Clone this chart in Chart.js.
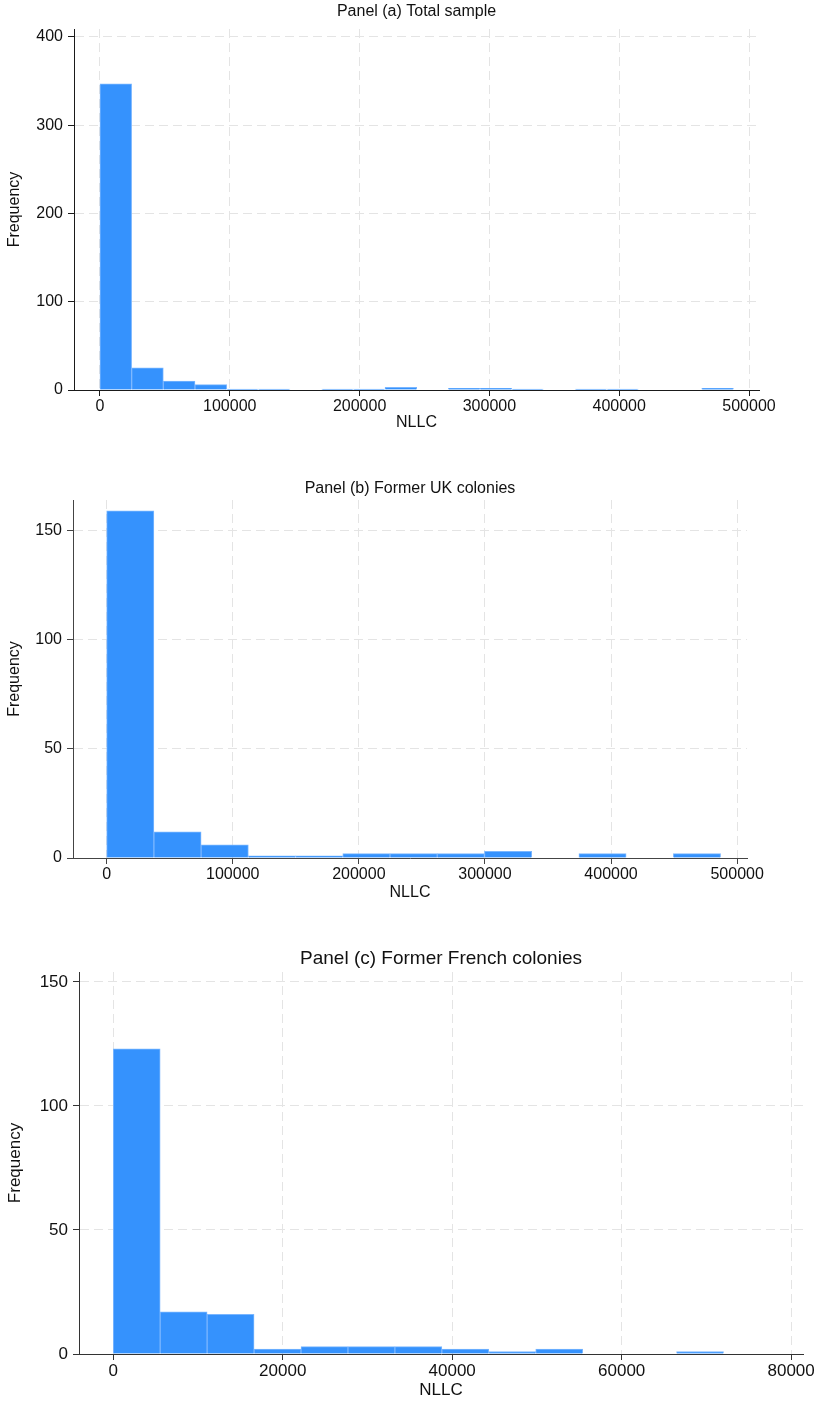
<!DOCTYPE html>
<html>
<head>
<meta charset="utf-8">
<title>NLLC histograms</title>
<script src="https://cdn.jsdelivr.net/npm/chart.js@4.4.1/dist/chart.umd.min.js"></script>
<style>
  body { margin: 0; background: #fff; }
  canvas.panel { position: absolute; left: 0; }
</style>
</head>
<body>
<canvas id="panelA" class="panel" width="819" height="440" style="top:0px"></canvas>
<canvas id="panelB" class="panel" width="819" height="450" style="top:460px"></canvas>
<canvas id="panelC" class="panel" width="819" height="474" style="top:930px"></canvas>
<script>
// frequencies per bin; every histogram starts at 0
const countsA = [347, 25, 10, 6, 1, 1, 0, 1, 1, 3, 0, 2, 2, 1, 0, 1, 1, 0, 0, 2];
const binWidthA = 24400;

const countsB = [159, 12, 6, 1, 1, 2, 2, 2, 3, 0, 2, 0, 2];
const binWidthB = 37450;

const countsC = [123, 17, 16, 2, 3, 3, 3, 2, 1, 2, 0, 0, 1];
const binWidthC = 5540;

const xTicksAB = [0, 100000, 200000, 300000, 400000, 500000];
const xTicksC = [0, 20000, 40000, 60000, 80000];
const yTicksA = [0, 100, 200, 300, 400];
const yTicksBC = [0, 50, 100, 150];

const titleA = "Panel (a) Total sample";
const titleB = "Panel (b) Former UK colonies";
const titleC = "Panel (c) Former French colonies";

const FONT = "'Liberation Sans', Arial, sans-serif";
const GRID = "#e4e4e4";
const BAR = "#3592fd";
const BAR_EDGE = "#7ab6ff";
const INK = "#111";

function makeHistogram(id, title, counts, binWidth, xTicks, yTicks, o) {
  const canvas = document.getElementById(id);
  const W = canvas.width, H = canvas.height;
  const points = counts.map((c, i) => ({ x: (i + 0.5) * binWidth, y: c }));
  const lh = o.fontSize * 1.2;
  const tlh = o.titleSize * 1.2;
  const font = { family: FONT, size: o.fontSize };
  const grid = {
    offset: false, color: GRID, lineWidth: 1,
    tickLength: 6, tickColor: o.axisColor, tickWidth: 1
  };
  const border = { color: o.axisColor, width: 1, dash: [9, 5] };

  return new Chart(canvas, {
    type: "bar",
    data: {
      datasets: [{
        data: points,
        backgroundColor: BAR,
        borderColor: BAR_EDGE,
        borderWidth: 1,
        barPercentage: 1,
        categoryPercentage: 1
      }]
    },
    options: {
      responsive: false,
      animation: false,
      devicePixelRatio: 1,
      layout: { padding: { top: 0, left: 0, right: W - o.right, bottom: 0 } },
      plugins: {
        legend: { display: false },
        tooltip: { enabled: false },
        title: {
          display: true,
          text: title,
          fullSize: false,
          color: INK,
          font: { family: FONT, size: o.titleSize, weight: "normal" },
          padding: { top: o.titleY - tlh / 2, bottom: o.top - o.titleY - tlh / 2 }
        }
      },
      scales: {
        x: {
          type: "linear",
          min: o.xMin,
          max: o.xMax,
          offset: false,
          afterBuildTicks: ax => { ax.ticks = xTicks.map(v => ({ value: v })); },
          afterFit: ax => { ax.height = H - o.bottom; },
          grid: grid,
          border: border,
          ticks: {
            autoSkip: false, maxRotation: 0, padding: o.xTickPad,
            color: INK, font: font, callback: v => String(v)
          },
          title: {
            display: true, text: "NLLC", color: INK, font: font,
            padding: { top: 0, bottom: o.xTitleOffset - lh / 2 }
          }
        },
        y: {
          type: "linear",
          min: 0,
          max: o.yMax,
          afterBuildTicks: ax => { ax.ticks = yTicks.map(v => ({ value: v })); },
          afterFit: ax => { ax.width = o.left; },
          grid: grid,
          border: border,
          ticks: { autoSkip: false, padding: 5, color: INK, font: font, callback: v => String(v) },
          title: {
            display: true, text: "Frequency", color: INK, font: font,
            padding: { top: o.yTitleX - lh / 2, bottom: 0 }
          }
        }
      }
    }
  });
}

makeHistogram("panelA", titleA, countsA, binWidthA, xTicksAB, yTicksA, {
  left: 74, right: 759, top: 29, bottom: 390, titleY: 12,
  xMin: -20000, xMax: 507700, yMax: 409,
  fontSize: 16, titleSize: 16, xTickPad: 1, xTitleOffset: 17, yTitleX: 15,
  axisColor: "#1a1a1a"
});

makeHistogram("panelB", titleB, countsB, binWidthB, xTicksAB, yTicksBC, {
  left: 73, right: 747, top: 40, bottom: 398, titleY: 29,
  xMin: -26700, xMax: 507800, yMax: 164,
  fontSize: 16, titleSize: 16, xTickPad: 1, xTitleOffset: 17, yTitleX: 15,
  axisColor: "#444"
});

makeHistogram("panelC", titleC, countsC, binWidthC, xTicksC, yTicksBC, {
  left: 79, right: 803, top: 42, bottom: 424, titleY: 29,
  xMin: -4040, xMax: 81400, yMax: 154,
  fontSize: 17, titleSize: 19, xTickPad: 1, xTitleOffset: 14, yTitleX: 15,
  axisColor: "#333"
});
</script>
</body>
</html>
